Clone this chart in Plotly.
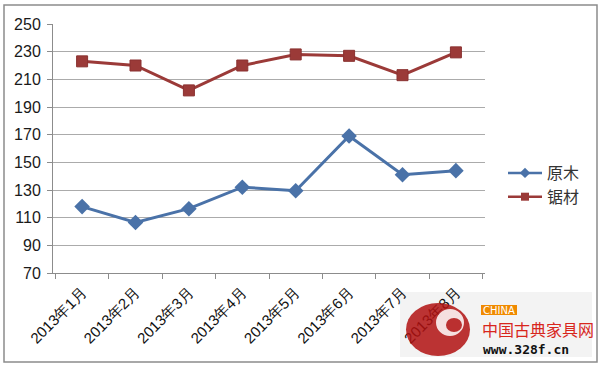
import plotly.graph_objects as go

months = ["2013年1月", "2013年2月", "2013年3月", "2013年4月",
          "2013年5月", "2013年6月", "2013年7月", "2013年8月"]
yuanmu = [118, 106.5, 116.5, 132, 129.5, 169, 141, 144]
jucai = [223, 220, 202, 220, 228, 227, 213, 229.5]
y_ticks = [70, 90, 110, 130, 150, 170, 190, 210, 230, 250]

W, H = 600, 365
L, R, T, B = 53, 115, 24, 92
PW, PH = W - L - R, H - T - B

BLUE = "#4a72a8"
RED = "#9b3a38"

def px(x):
    return (x - L) / PW

def py(y):
    return (H - B - y) / PH

fig = go.Figure()
fig.add_trace(go.Scatter(x=months, y=yuanmu, name="原木", mode="lines+markers",
                         showlegend=False,
                         line=dict(color=BLUE, width=3),
                         marker=dict(symbol="diamond", size=12, color=BLUE)))
fig.add_trace(go.Scatter(x=months, y=jucai, name="锯材", mode="lines+markers",
                         showlegend=False,
                         line=dict(color=RED, width=3),
                         marker=dict(symbol="square", size=11, color=RED,
                                     line=dict(color="#8a3130", width=1))))
# legend entries (smaller symbols, as in the reference)
fig.add_trace(go.Scatter(x=[None], y=[None], name="原木", mode="lines+markers",
                         line=dict(color=BLUE, width=2.5),
                         marker=dict(symbol="diamond", size=8, color=BLUE)))
fig.add_trace(go.Scatter(x=[None], y=[None], name="锯材", mode="lines+markers",
                         line=dict(color=RED, width=2.5),
                         marker=dict(symbol="square", size=8, color=RED)))

shapes = [
    dict(type="rect", xref="paper", yref="paper", x0=px(4), x1=px(597), y0=py(362), y1=py(5),
         line=dict(color="#8c8c8c", width=1.5), layer="below"),
    dict(type="rect", xref="paper", yref="paper", x0=px(400), x1=px(592), y0=py(357), y1=py(292),
         fillcolor="#f3f3f3", line=dict(width=0), layer="below"),
    dict(type="circle", xref="paper", yref="paper", x0=px(406), x1=px(470), y0=py(356), y1=py(303),
         fillcolor="#b01010", line=dict(width=0), opacity=0.85),
    dict(type="circle", xref="paper", yref="paper", x0=px(436), x1=px(464), y0=py(336), y1=py(309),
         fillcolor="white", line=dict(width=0), opacity=0.85),
    dict(type="circle", xref="paper", yref="paper", x0=px(446), x1=px(462), y0=py(332), y1=py(318),
         fillcolor="#b01010", line=dict(width=0), opacity=0.85),
    dict(type="rect", xref="paper", yref="paper", x0=px(481), x1=px(517), y0=py(315), y1=py(305),
         fillcolor="#f08a00", line=dict(width=0)),
]

annotations = [
    dict(text="CHINA", xref="paper", yref="paper", x=px(499), y=py(310), showarrow=False,
         font=dict(family="DejaVu Sans", size=10, color="white"), xanchor="center", yanchor="middle"),
    dict(text="中国古典家具网", xref="paper", yref="paper", x=px(480), y=py(329), showarrow=False,
         font=dict(family="Noto Sans CJK SC", size=16, color="#d8261c"), xanchor="left", yanchor="middle"),
    dict(text="<b>www.328f.cn</b>", xref="paper", yref="paper", x=px(481), y=py(349), showarrow=False,
         font=dict(family="DejaVu Sans Mono", size=13, color="#111111"), xanchor="left", yanchor="middle"),
]

fig.update_layout(
    width=W, height=H,
    margin=dict(l=L, r=R, t=T, b=B, autoexpand=False),
    paper_bgcolor="white", plot_bgcolor="white",
    font=dict(family="Liberation Sans", color="#222222"),
    showlegend=True,
    legend=dict(xref="container", yref="container", x=503 / W, y=1 - 156 / H,
                xanchor="left", yanchor="top",
                font=dict(family="Noto Sans CJK SC", size=16, color="#333333"),
                tracegroupgap=6, itemwidth=34, bgcolor="rgba(0,0,0,0)"),
    xaxis=dict(type="category", tickangle=-45, tickson="boundaries", automargin=False,
               ticks="outside", ticklen=5, tickcolor="#8c8c8c", ticklabelstandoff=4,
               showline=True, linecolor="#8c8c8c", linewidth=1,
               showgrid=False, tickfont=dict(family="Liberation Sans", size=15, color="#111111")),
    yaxis=dict(range=[70, 250], tickvals=y_ticks, ticks="outside", ticklen=5, tickcolor="#8c8c8c",
               automargin=False, ticklabelstandoff=3,
               showline=True, linecolor="#8c8c8c", linewidth=1,
               showgrid=True, gridcolor="#ababab", gridwidth=1, zeroline=False,
               tickfont=dict(family="Liberation Sans", size=16, color="#1a1a1a")),
    shapes=shapes, annotations=annotations,
)

fig.write_html("out.html", config={"displayModeBar": False},
               post_script="document.body.style.margin='0px';")
